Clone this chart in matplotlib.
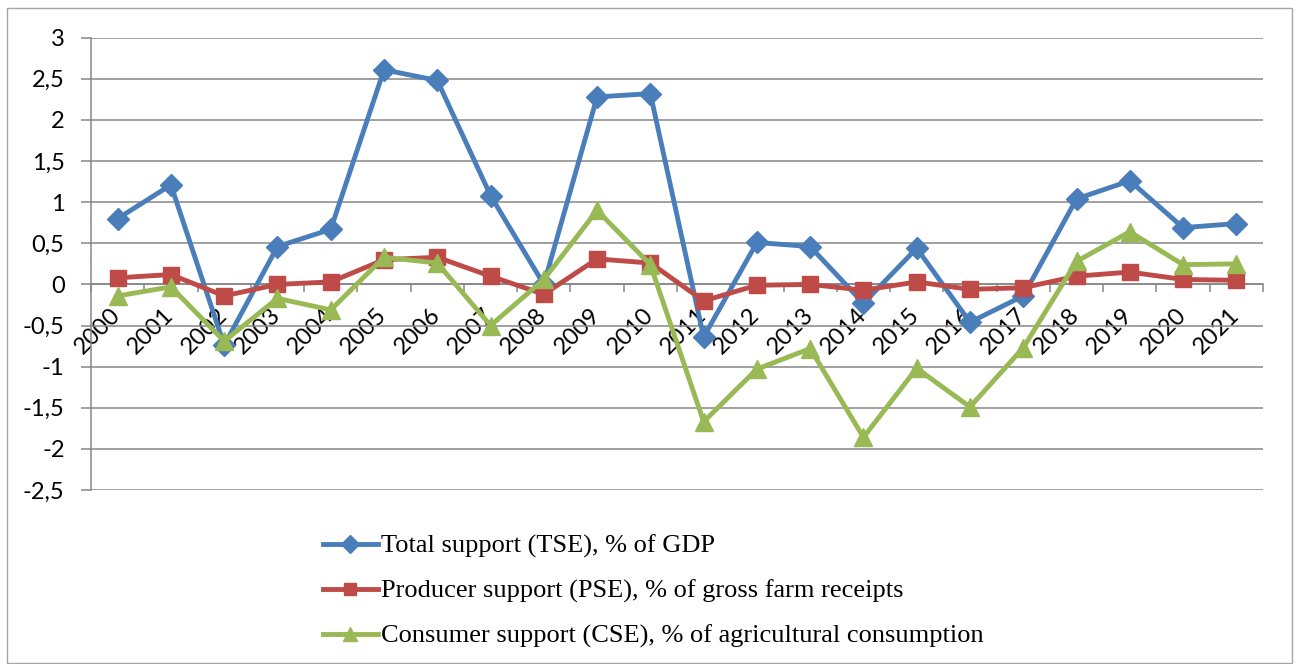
import numpy as np
import matplotlib
matplotlib.use("Agg")
import matplotlib.pyplot as plt
import matplotlib.transforms as mtransforms
from matplotlib.patches import Rectangle
from matplotlib.lines import Line2D

# --- data ---
years = [str(y) for y in range(2000, 2022)]

tse = [0.80, 1.21, -0.74, 0.46, 0.67, 2.61, 2.48, 1.08, 0.00, 2.28, 2.32,
       -0.64, 0.51, 0.46, -0.23, 0.44, -0.46, -0.14, 1.04, 1.26, 0.69, 0.74]
pse = [0.08, 0.12, -0.14, 0.00, 0.03, 0.30, 0.33, 0.10, -0.12, 0.31, 0.26,
       -0.20, -0.01, 0.00, -0.07, 0.03, -0.06, -0.04, 0.10, 0.15, 0.06, 0.05]
cse = [-0.14, -0.03, -0.69, -0.17, -0.31, 0.33, 0.26, -0.50, 0.06, 0.90, 0.24,
       -1.67, -1.03, -0.78, -1.86, -1.02, -1.49, -0.77, 0.28, 0.64, 0.24, 0.25]

labels = [
    "Total support (TSE), % of GDP",
    "Producer support (PSE), % of gross farm receipts",
    "Consumer support (CSE), % of agricultural consumption",
]

y_ticks = [-2.5, -2, -1.5, -1, -0.5, 0, 0.5, 1, 1.5, 2, 2.5, 3]
y_tick_labels = ["-2,5", "-2", "-1,5", "-1", "-0,5", "0", "0,5", "1", "1,5", "2", "2,5", "3"]

BLUE = "#4A7EBB"
RED = "#BE4B48"
GREEN = "#98B954"
GRID = "#868686"

W, H = 1299, 664
fig = plt.figure(figsize=(W / 100, H / 100), dpi=100)

# outer chart border
fig.patches.append(Rectangle((7 / W, 1 - 663 / H), (1292 - 7) / W, (663 - 8) / H,
                             transform=fig.transFigure, fill=False,
                             edgecolor="#A6A6A6", linewidth=1.0))

ax = fig.add_axes([91 / W, 1 - 490 / H, (1263 - 91) / W, (490 - 37.7) / H])

x = np.arange(len(years))
series = [
    (tse, BLUE, "D", 11.5),
    (pse, RED, "s", 11.5),
    (cse, GREEN, "^", 12.5),
]
for vals, col, mk, ms in series:
    ax.plot(x, vals, color=col, lw=3.5, marker=mk, markersize=ms,
            markerfacecolor=col, markeredgecolor=col, zorder=3)

ax.set_xlim(-0.5, len(years) - 0.5)
ax.set_ylim(-2.5, 3)

# y axis
ax.set_yticks(y_ticks)
ax.set_yticklabels(y_tick_labels, fontfamily="Lato", fontsize=17)
ax.yaxis.grid(True, color=GRID, lw=1.1)
ax.set_axisbelow(True)
ax.tick_params(axis="y", length=7, width=1.1, color=GRID, pad=12)

# category axis crossing at zero
ax.spines["top"].set_visible(False)
ax.spines["right"].set_visible(False)
ax.spines["left"].set_color(GRID)
ax.spines["left"].set_linewidth(1.1)
ax.spines["bottom"].set_position(("data", 0))
ax.spines["bottom"].set_color(GRID)
ax.spines["bottom"].set_linewidth(1.1)

ax.set_xticks(x)
ax.set_xticks(np.arange(-0.5, len(years)), minor=True)
ax.set_xticklabels(years, rotation=45, ha="right", va="top",
                   fontfamily="Lato", fontsize=17)
ax.tick_params(axis="x", which="major", length=0, pad=14)
ax.tick_params(axis="x", which="minor", length=6, width=1.1, color=GRID, direction="out")
shift = mtransforms.ScaledTranslation(7 / 100, 0, fig.dpi_scale_trans)
for lab in ax.get_xticklabels():
    lab.set_transform(lab.get_transform() + shift)

# legend below the plot
handles = [
    Line2D([], [], color=BLUE, lw=3.5, marker="D", markersize=9),
    Line2D([], [], color=RED, lw=3.5, marker="s", markersize=9),
    Line2D([], [], color=GREEN, lw=3.5, marker="^", markersize=10),
]
fig.legend(handles, labels, loc="upper left",
           bbox_to_anchor=(312 / W, 1 - 524 / H),
           frameon=False, handlelength=2.1, handletextpad=0.1,
           labelspacing=0.8, borderaxespad=0,
           prop={"family": "Liberation Serif", "size": 19.0})

fig.savefig("out.png", dpi=100)
